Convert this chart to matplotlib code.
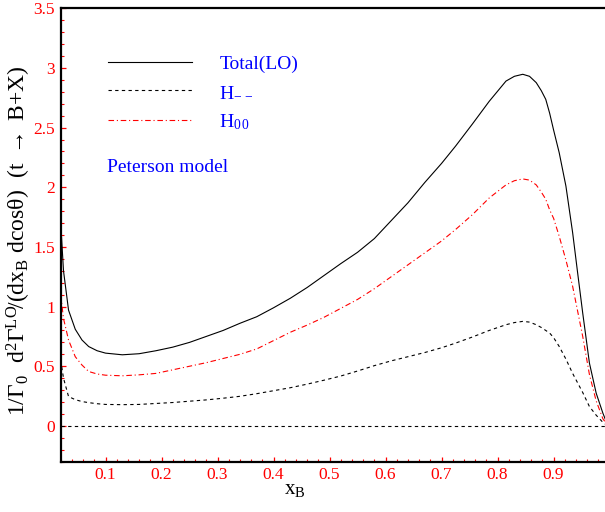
import numpy as np
import matplotlib.pyplot as plt
from matplotlib.ticker import MultipleLocator

plt.rcParams['font.family'] = 'Liberation Serif'
plt.rcParams['mathtext.fontset'] = 'custom'
plt.rcParams['mathtext.rm'] = 'Liberation Serif'
plt.rcParams['mathtext.it'] = 'Liberation Serif'
plt.rcParams['mathtext.bf'] = 'Liberation Serif'

# x_B grid and curves
xb = [0.02, 0.025, 0.034, 0.046, 0.058, 0.07, 0.085, 0.1, 0.13, 0.16, 0.19,
      0.22, 0.25, 0.28, 0.31, 0.34, 0.37, 0.4, 0.43, 0.46, 0.49, 0.52, 0.55,
      0.58, 0.61, 0.64, 0.67, 0.70, 0.725, 0.755, 0.785, 0.815, 0.83, 0.845,
      0.857, 0.869, 0.878, 0.886, 0.893, 0.9, 0.91, 0.922, 0.934, 0.943,
      0.952, 0.964, 0.976, 0.988, 0.994]

total = [1.70, 1.30, 0.97, 0.81, 0.72, 0.665, 0.63, 0.61, 0.596, 0.605, 0.63,
         0.66, 0.70, 0.75, 0.80, 0.86, 0.915, 0.99, 1.07, 1.16, 1.26, 1.36,
         1.455, 1.57, 1.72, 1.87, 2.04, 2.20, 2.345, 2.53, 2.72, 2.89, 2.93,
         2.947, 2.93, 2.877, 2.81, 2.737, 2.62, 2.48, 2.29, 2.01, 1.62, 1.28,
         0.946, 0.526, 0.275, 0.107, 0.036]

h00 = [1.10, 0.90, 0.72, 0.58, 0.51, 0.456, 0.435, 0.425, 0.42, 0.428, 0.44,
       0.47, 0.50, 0.53, 0.565, 0.60, 0.645, 0.715, 0.785, 0.845, 0.91, 0.985,
       1.06, 1.15, 1.25, 1.35, 1.45, 1.55, 1.646, 1.77, 1.91, 2.02, 2.055,
       2.07, 2.06, 2.02, 1.96, 1.90, 1.81, 1.74, 1.59, 1.39, 1.17, 0.96,
       0.75, 0.43, 0.21, 0.06, 0.02]

hmm = [0.55, 0.40, 0.246, 0.22, 0.204, 0.195, 0.186, 0.18, 0.178, 0.18, 0.188,
       0.196, 0.207, 0.218, 0.232, 0.248, 0.27, 0.295, 0.32, 0.35, 0.383,
       0.418, 0.46, 0.505, 0.545, 0.58, 0.615, 0.655, 0.694, 0.745, 0.80,
       0.848, 0.866, 0.876, 0.87, 0.848, 0.825, 0.80, 0.778, 0.74, 0.666,
       0.56, 0.44, 0.36, 0.28, 0.162, 0.09, 0.03, 0.01]

fig = plt.figure(figsize=(6.05, 5.12), dpi=100)
ax = fig.add_axes([60.7 / 605, 50.3 / 512, 548.9 / 605, 453.4 / 512])

ax.plot(xb, total, color='black', lw=0.8, label='Total(LO)')
ax.plot(xb, hmm, color='black', lw=0.8, dashes=(3, 3), label=r'$\mathrm{H_{-\,-}}$')
ax.plot(xb, h00, color='red', lw=0.8, dashes=(5, 2.5, 1, 2.5), label=r'$\mathrm{H_{0\,0}}$')
ax.axhline(0, color='black', lw=0.8, dashes=(3, 3))

ax.set_xlim(0.02, 1.0)
ax.set_ylim(-0.3, 3.5)
ax.xaxis.set_minor_locator(MultipleLocator(0.02))
ax.yaxis.set_minor_locator(MultipleLocator(0.1))
ax.set_xticks([0.1, 0.2, 0.3, 0.4, 0.5, 0.6, 0.7, 0.8, 0.9])
ax.set_xticklabels(['0.1', '0.2', '0.3', '0.4', '0.5', '0.6', '0.7', '0.8', '0.9'])
ax.set_yticks([0, 0.5, 1, 1.5, 2, 2.5, 3, 3.5])
ax.set_yticklabels(['0', '0.5', '1', '1.5', '2', '2.5', '3', '3.5'])

ax.tick_params(which='both', direction='in', color='red', labelcolor='red',
               labelsize=12.5, top=False, right=False)
ax.tick_params(which='major', length=3.5, width=0.9, pad=4)
ax.tick_params(which='minor', length=2, width=0.8)
for s in ax.spines.values():
    s.set_linewidth(1.6)

ax.set_xlabel(r'$\mathrm{x_B}$', fontsize=15)
ax.xaxis.set_label_coords((295 - 60.7) / 548.9, -0.04)
ax.set_ylabel(r'$\mathrm{1/\Gamma_0\ \ d^2\Gamma^{LO}\!/(dx_B\ dcos\theta)\ \ (t\ \rightarrow\ B{+}X)}$',
              fontsize=17)
ax.yaxis.set_label_coords(-0.05, 0.487)

leg = ax.legend(loc='upper left', bbox_to_anchor=(0.055, 0.935), frameon=False,
                fontsize=14, handlelength=4.3, handletextpad=1.4,
                labelspacing=0.55, labelcolor='blue')
ax.text(0.085, 0.648, 'Peterson model', transform=ax.transAxes, color='blue',
        fontsize=14, va='center', ha='left')

plt.savefig('out.png', dpi=100)
